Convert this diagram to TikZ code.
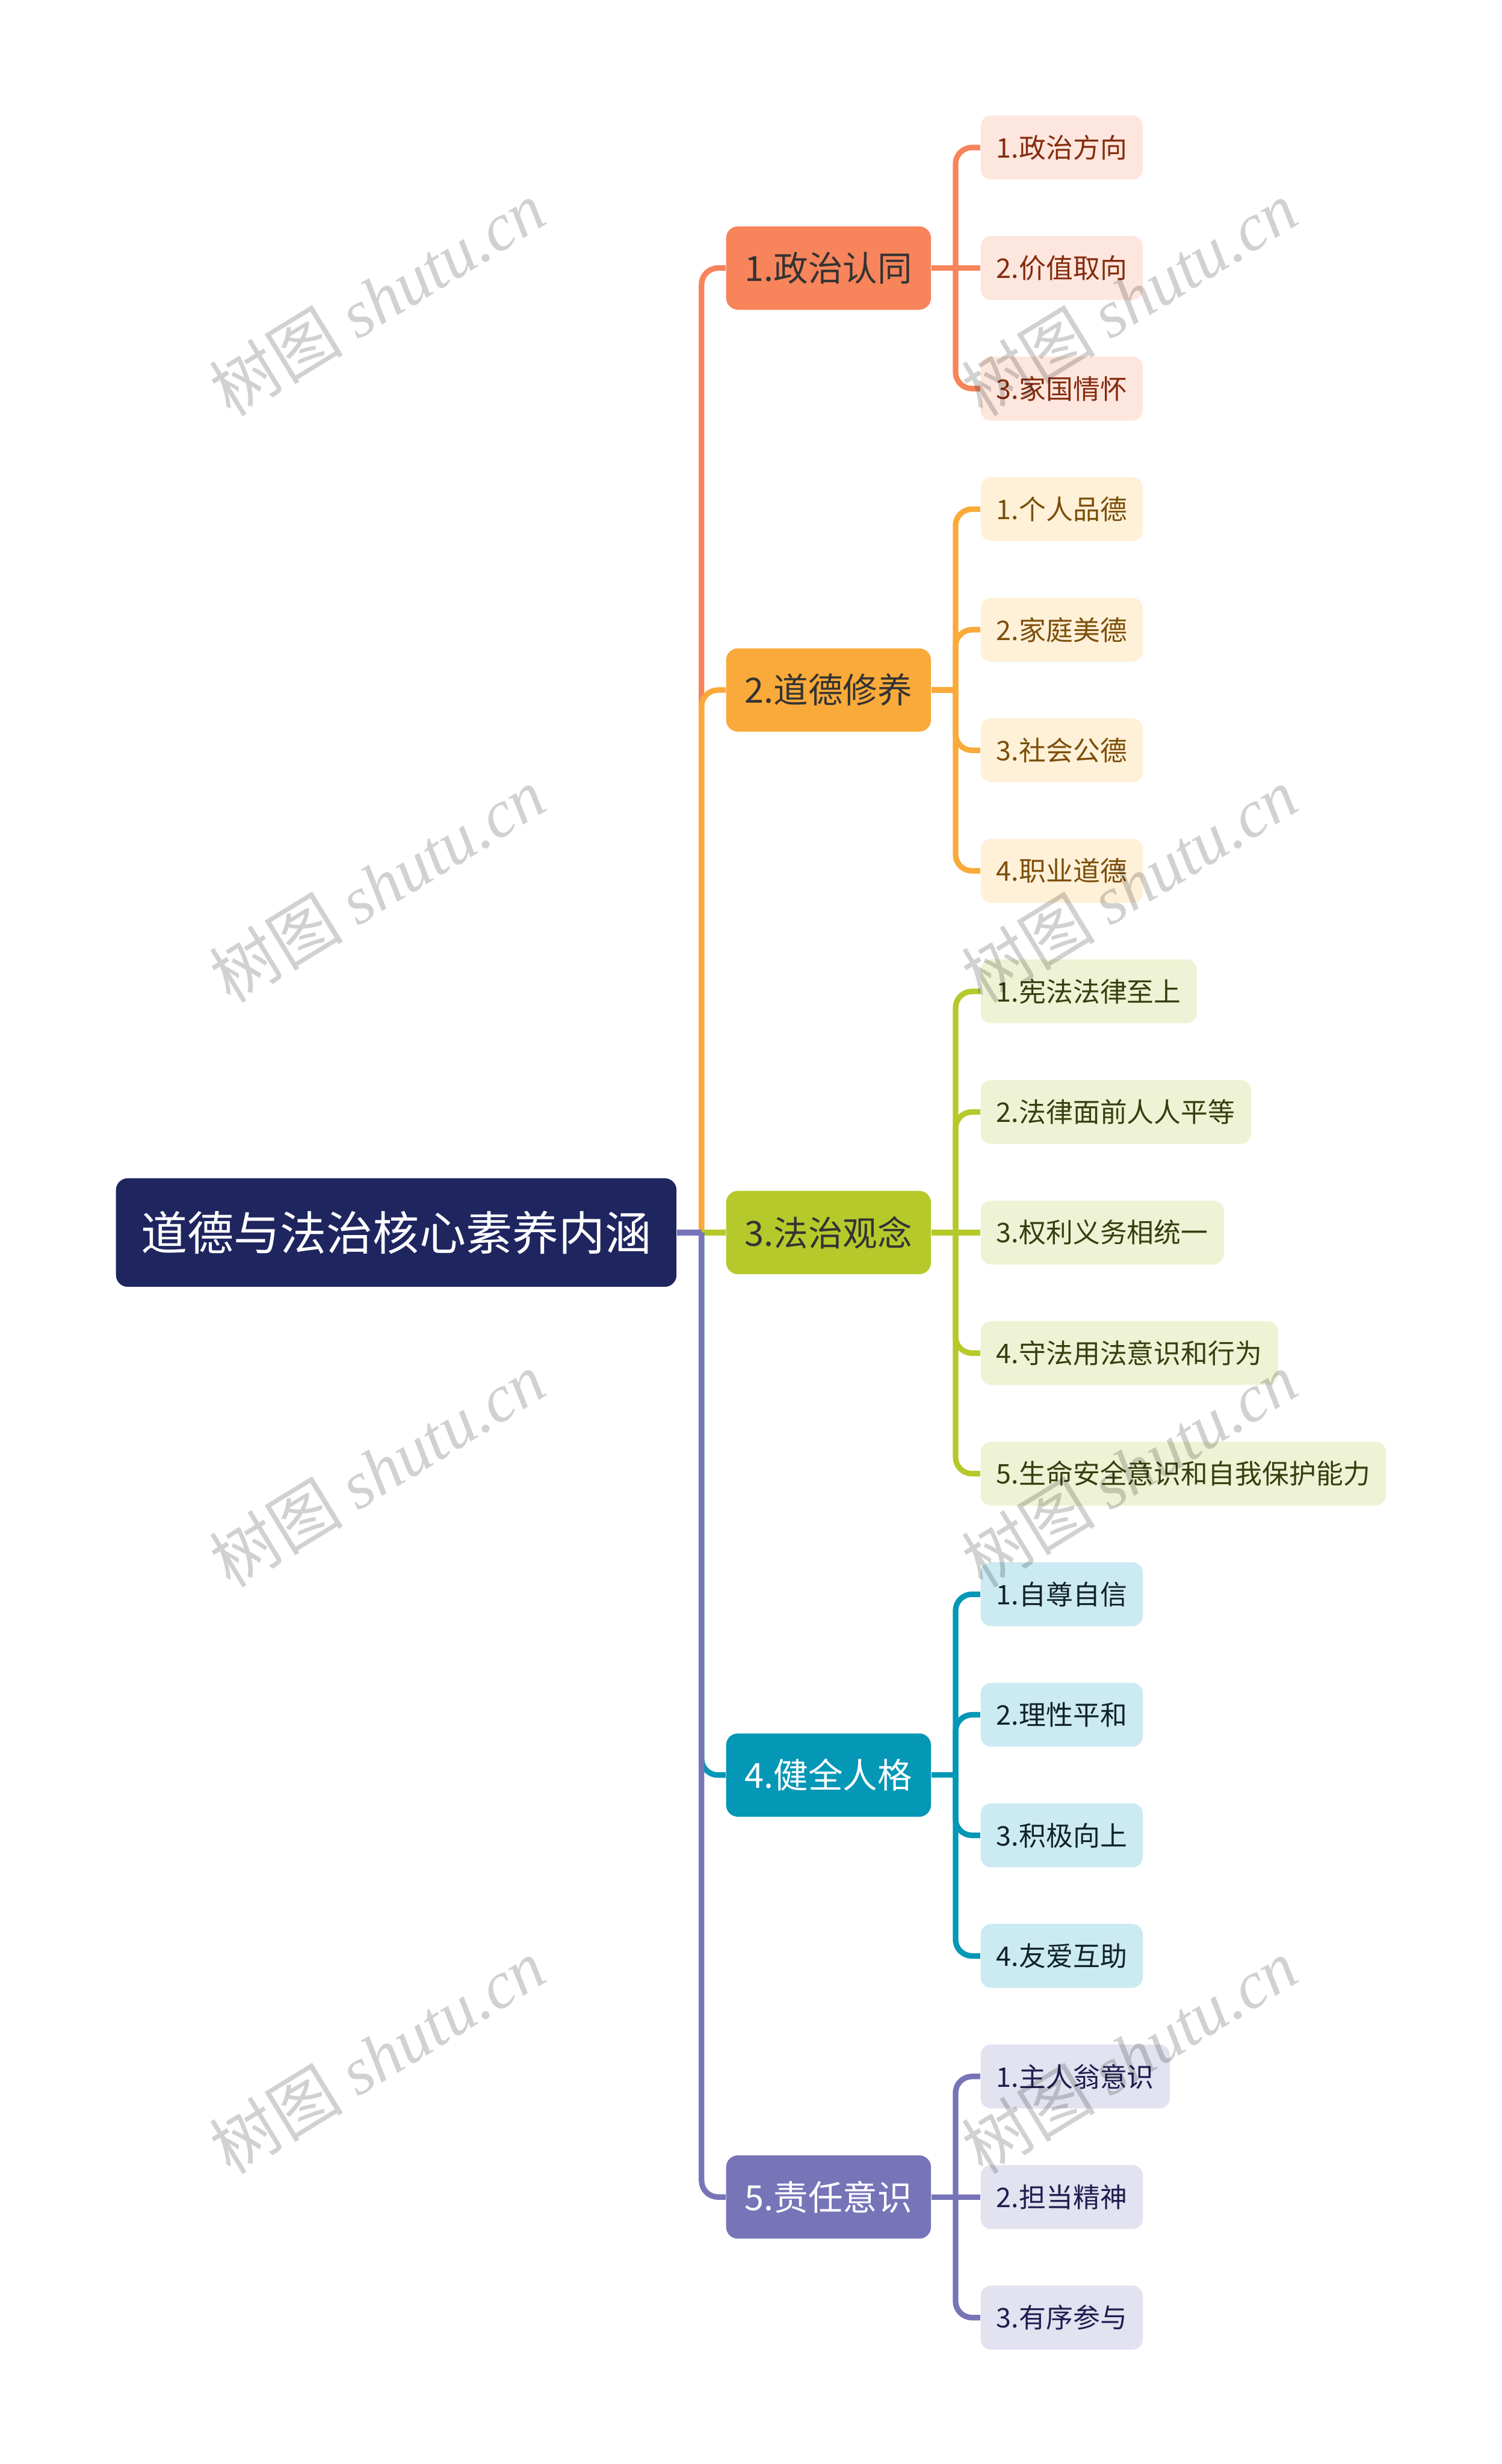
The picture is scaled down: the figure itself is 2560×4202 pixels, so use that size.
\documentclass[tikz,border=0pt]{standalone}
\usepackage{fontspec}
\setmainfont{Noto Sans CJK SC}
\newfontfamily\marklatin{Liberation Serif}
\definecolor{rootnavy}{RGB}{31,37,95}
\definecolor{darktext}{RGB}{51,51,51}
\definecolor{topicA}{RGB}{247,132,90}
\definecolor{topicB}{RGB}{249,170,58}
\definecolor{topicC}{RGB}{181,201,43}
\definecolor{topicD}{RGB}{4,151,182}
\definecolor{topicE}{RGB}{119,116,184}
\definecolor{lightA}{RGB}{253,230,221}
\definecolor{lightB}{RGB}{254,241,216}
\definecolor{lightC}{RGB}{239,243,213}
\definecolor{lightD}{RGB}{204,234,242}
\definecolor{lightE}{RGB}{226,226,240}
\definecolor{inkA}{RGB}{133,43,14}
\definecolor{inkB}{RGB}{125,78,10}
\definecolor{inkC}{RGB}{55,62,15}
\definecolor{inkD}{RGB}{17,34,40}
\definecolor{inkE}{RGB}{30,30,80}
\usepackage{tikz}

\begin{document}
\begin{tikzpicture}[x=0.01cm, y=-0.01cm,
    rootbox/.style={rectangle, rounded corners=0.2cm, fill=rootnavy, text=white, minimum width=9.55cm, minimum height=1.85cm, font=\fontsize{22.5pt}{27pt}\selectfont},
    topic/.style={rectangle, rounded corners=0.2cm, minimum width=3.49cm, minimum height=1.42cm, font=\fontsize{16.8pt}{20pt}\selectfont},
    item/.style={rectangle, rounded corners=0.18cm, anchor=west, inner xsep=0.27cm, minimum height=1.09cm, font=\fontsize{13.1pt}{16pt}\selectfont},
    link/.style={line width=2.7pt},
    curvelink/.style={line width=2.7pt, rounded corners=0.28cm},
    wmark/.style={rotate=31.5, text=black, text opacity=0.18, font=\fontsize{32.5pt}{38pt}\selectfont}]
    \useasboundingbox (0,0) rectangle (2560,4202);

    \node[rootbox] (core) at (675.5,2101.9) {道德与法治核心素养内涵};

    \node[topic, fill=topicA, text=darktext] (rentong) at (1412.5,457.1) {1.政治认同};
    \node[topic, fill=topicB, text=darktext] (xiuyang) at (1412.5,1176.7) {2.道德修养};
    \node[topic, fill=topicC, text=darktext] (guannian) at (1412.5,2101.9) {3.法治观念};
    \node[topic, fill=topicD, text=white] (renge) at (1412.5,3027.1) {4.健全人格};
    \node[topic, fill=topicE, text=white] (zeren) at (1412.5,3746.7) {5.责任意识};

    \node[item, fill=lightA, text=inkA] (fangxiang) at (1671,251.5) {1.政治方向};
    \node[item, fill=lightA, text=inkA] (jiazhi) at (1671,457.1) {2.价值取向};
    \node[item, fill=lightA, text=inkA] (qinghuai) at (1671,662.7) {3.家国情怀};

    \node[item, fill=lightB, text=inkB] (pinde) at (1671,868.3) {1.个人品德};
    \node[item, fill=lightB, text=inkB] (meide) at (1671,1073.9) {2.家庭美德};
    \node[item, fill=lightB, text=inkB] (gongde) at (1671,1279.5) {3.社会公德};
    \node[item, fill=lightB, text=inkB] (zhiye) at (1671,1485.1) {4.职业道德};

    \node[item, fill=lightC, text=inkC] (zhishang) at (1671,1690.7) {1.宪法法律至上};
    \node[item, fill=lightC, text=inkC] (pingdeng) at (1671,1896.3) {2.法律面前人人平等};
    \node[item, fill=lightC, text=inkC] (tongyi) at (1671,2101.9) {3.权利义务相统一};
    \node[item, fill=lightC, text=inkC] (shoufa) at (1671,2307.5) {4.守法用法意识和行为};
    \node[item, fill=lightC, text=inkC] (baohu) at (1671,2513.1) {5.生命安全意识和自我保护能力};

    \node[item, fill=lightD, text=inkD] (zizun) at (1671,2718.7) {1.自尊自信};
    \node[item, fill=lightD, text=inkD] (lixing) at (1671,2924.3) {2.理性平和};
    \node[item, fill=lightD, text=inkD] (jiji) at (1671,3129.9) {3.积极向上};
    \node[item, fill=lightD, text=inkD] (youai) at (1671,3335.5) {4.友爱互助};

    \node[item, fill=lightE, text=inkE] (zhurenweng) at (1671,3541.1) {1.主人翁意识};
    \node[item, fill=lightE, text=inkE] (dandang) at (1671,3746.7) {2.担当精神};
    \node[item, fill=lightE, text=inkE] (canyu) at (1671,3952.3) {3.有序参与};

    \coordinate (hub) at (1196,2101.9);
    \coordinate (hubA) at (1629,457.1);
    \coordinate (hubB) at (1629,1176.7);
    \coordinate (hubC) at (1629,2101.9);
    \coordinate (hubD) at (1629,3027.1);
    \coordinate (hubE) at (1629,3746.7);

    \draw[curvelink, topicA] (hub) |- (rentong.west);
    \draw[link, topicA] (rentong.east) -- (hubA);
    \draw[curvelink, topicA] (hubA) |- (fangxiang.west);
    \draw[link, topicA] (hubA) -- (jiazhi.west);
    \draw[curvelink, topicA] (hubA) |- (qinghuai.west);

    \draw[curvelink, topicB] (hub) |- (xiuyang.west);
    \draw[link, topicB] (xiuyang.east) -- (hubB);
    \draw[curvelink, topicB] (hubB) |- (pinde.west);
    \draw[curvelink, topicB] (hubB) |- (meide.west);
    \draw[curvelink, topicB] (hubB) |- (gongde.west);
    \draw[curvelink, topicB] (hubB) |- (zhiye.west);

    \draw[link, topicC] (hub) -- (guannian.west);
    \draw[link, topicC] (guannian.east) -- (hubC);
    \draw[curvelink, topicC] (hubC) |- (zhishang.west);
    \draw[curvelink, topicC] (hubC) |- (pingdeng.west);
    \draw[link, topicC] (hubC) -- (tongyi.west);
    \draw[curvelink, topicC] (hubC) |- (shoufa.west);
    \draw[curvelink, topicC] (hubC) |- (baohu.west);

    \draw[curvelink, topicD] (hub) |- (renge.west);
    \draw[link, topicD] (renge.east) -- (hubD);
    \draw[curvelink, topicD] (hubD) |- (zizun.west);
    \draw[curvelink, topicD] (hubD) |- (lixing.west);
    \draw[curvelink, topicD] (hubD) |- (jiji.west);
    \draw[curvelink, topicD] (hubD) |- (youai.west);

    \draw[curvelink, topicE] (hub) |- (zeren.west);
    \draw[link, topicE] (zeren.east) -- (hubE);
    \draw[curvelink, topicE] (hubE) |- (zhurenweng.west);
    \draw[link, topicE] (hubE) -- (dandang.west);
    \draw[curvelink, topicE] (hubE) |- (canyu.west);
    \draw[link, topicE] (core.east) -- (hub);

    \node[wmark] (wmA) at (643,509) {树图 {\marklatin\itshape shutu.cn}};
    \node[wmark] (wmB) at (1925,509) {树图 {\marklatin\itshape shutu.cn}};
    \node[wmark] (wmC) at (643,1509) {树图 {\marklatin\itshape shutu.cn}};
    \node[wmark] (wmD) at (1925,1509) {树图 {\marklatin\itshape shutu.cn}};
    \node[wmark] (wmE) at (643,2506) {树图 {\marklatin\itshape shutu.cn}};
    \node[wmark] (wmF) at (1925,2506) {树图 {\marklatin\itshape shutu.cn}};
    \node[wmark] (wmG) at (643,3506) {树图 {\marklatin\itshape shutu.cn}};
    \node[wmark] (wmH) at (1925,3506) {树图 {\marklatin\itshape shutu.cn}};
\end{tikzpicture}
\end{document}
